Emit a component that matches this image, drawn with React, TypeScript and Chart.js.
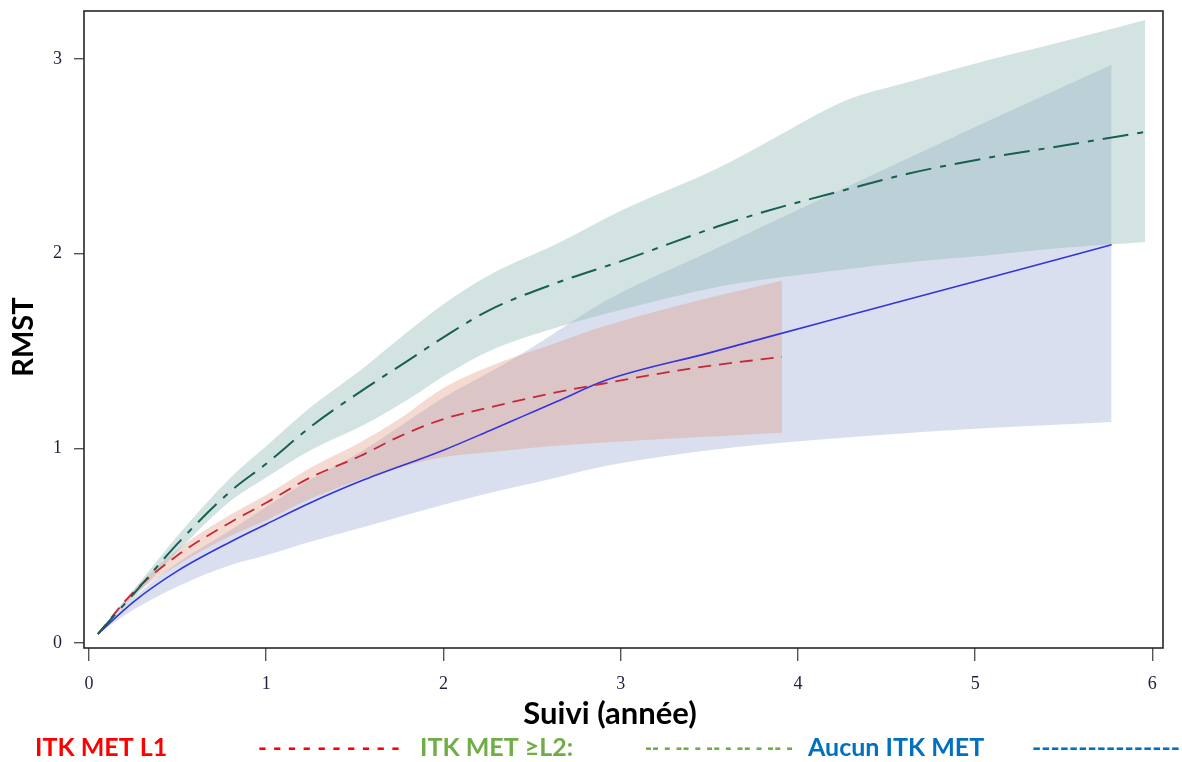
import React, { useEffect, useRef } from "react";
import { Chart, registerables } from "chart.js";

Chart.register(...registerables);

// Axis ticks and titles
const X_TICKS = [0, 1, 2, 3, 4, 5, 6];
const Y_TICKS = [0, 1, 2, 3];
const X_TITLE = "Suivi (année)";
const Y_TITLE = "RMST";

// ITK MET ≥L2 : RMST and confidence band
const L2_X = [0.05, 0.25, 0.5, 0.8, 1.0, 1.25, 1.53, 1.8, 2.0, 2.26, 2.64, 3.0, 3.55, 3.83, 4.28, 4.62, 5.06, 5.5, 5.96];
const L2_RMST = [0.046, 0.25, 0.51, 0.78, 0.92, 1.11, 1.29, 1.45, 1.57, 1.71, 1.85, 1.96, 2.14, 2.22, 2.33, 2.41, 2.49, 2.555, 2.625];
const L2_LOW = [0.046, 0.23, 0.47, 0.73, 0.85, 0.99, 1.11, 1.25, 1.37, 1.5, 1.62, 1.71, 1.83, 1.87, 1.92, 1.955, 1.99, 2.03, 2.06];
const L2_HIGH = [0.046, 0.27, 0.55, 0.85, 1.01, 1.21, 1.4, 1.6, 1.74, 1.89, 2.05, 2.22, 2.44, 2.575, 2.79, 2.88, 2.99, 3.09, 3.2];

// ITK MET L1
const L1_X = [0.05, 0.25, 0.5, 0.8, 1.0, 1.25, 1.53, 1.75, 2.0, 2.26, 2.6, 2.92, 3.4, 3.91];
const L1_RMST = [0.046, 0.26, 0.45, 0.62, 0.72, 0.85, 0.96, 1.06, 1.15, 1.21, 1.28, 1.335, 1.41, 1.47];
const L1_LOW = [0.046, 0.24, 0.4, 0.55, 0.63, 0.74, 0.84, 0.9, 0.955, 0.98, 1.01, 1.03, 1.055, 1.08];
const L1_HIGH = [0.046, 0.27, 0.48, 0.66, 0.76, 0.9, 1.03, 1.15, 1.31, 1.42, 1.53, 1.63, 1.75, 1.86];

// Aucun ITK MET
const AU_X = [0.05, 0.25, 0.5, 0.8, 1.0, 1.25, 1.53, 2.0, 2.26, 2.45, 2.64, 2.92, 3.5, 4.13, 5.0, 5.77];
const AU_RMST = [0.046, 0.21, 0.37, 0.52, 0.61, 0.72, 0.83, 0.99, 1.09, 1.165, 1.24, 1.35, 1.49, 1.645, 1.857, 2.045];
const AU_LOW = [0.046, 0.17, 0.29, 0.4, 0.45, 0.52, 0.59, 0.71, 0.77, 0.81, 0.85, 0.91, 0.99, 1.045, 1.1, 1.135];
const AU_HIGH = [0.046, 0.23, 0.41, 0.58, 0.7, 0.84, 0.98, 1.26, 1.39, 1.49, 1.6, 1.76, 2.01, 2.28, 2.65, 2.97];

// Legend row under the axis title
const LEGEND_LABELS = ["ITK MET L1", "ITK MET ≥L2:", "Aucun ITK MET"];
const LEGEND_DASHES = ["- - - - - - - - - -", "-- - -- - -- - -- - -- -", "----------------"];
const LEGEND_COLORS = ["#ff0000", "#70ad47", "#0070c0"];

const pts = (xs: number[], ys: number[]) => xs.map((x, i) => ({ x, y: ys[i] }));

const lineDs = (label: string, xs: number[], ys: number[], color: string, width: number, dash: number[]) => ({
  label,
  data: pts(xs, ys),
  borderColor: color,
  borderWidth: width,
  borderDash: dash,
  pointRadius: 0,
  fill: false,
  cubicInterpolationMode: "monotone" as const,
  order: 0,
});

const edgeDs = (label: string, xs: number[], ys: number[], fill: any, bg: string) => ({
  label,
  data: pts(xs, ys),
  borderColor: "rgba(0,0,0,0)",
  borderWidth: 0,
  pointRadius: 0,
  fill,
  backgroundColor: bg,
  cubicInterpolationMode: "monotone" as const,
  order: 1,
});

// Box around the plotting area
const framePlugin = {
  id: "plotFrame",
  afterDraw(chart: any) {
    const { ctx, chartArea } = chart;
    ctx.save();
    ctx.strokeStyle = "#262626";
    ctx.lineWidth = 1.6;
    ctx.strokeRect(chartArea.left, chartArea.top, chartArea.right - chartArea.left, chartArea.bottom - chartArea.top);
    ctx.restore();
  },
};

// Axis titles
const titlesPlugin = {
  id: "axisTitles",
  afterDraw(chart: any) {
    const ctx = chart.ctx as CanvasRenderingContext2D;
    ctx.save();
    ctx.fillStyle = "#000";
    ctx.textBaseline = "alphabetic";
    ctx.textAlign = "center";
    ctx.font = "bold 31px Lato";
    ctx.fillText(X_TITLE, 610, 724);
    ctx.font = "bold 29px Lato";
    ctx.translate(33, 337);
    ctx.rotate(-Math.PI / 2);
    ctx.fillText(Y_TITLE, 0, 0);
    ctx.restore();
  },
};

const LABEL_LEFT = [35, 420, 808];
const DASH_SPAN = [
  [258, 400],
  [645, 793],
  [1032, 1180],
];

const legendPlugin = {
  id: "bottomLegend",
  afterDraw(chart: any) {
    const ctx = chart.ctx as CanvasRenderingContext2D;
    ctx.save();
    ctx.font = "bold 25px Lato";
    ctx.textBaseline = "alphabetic";
    ctx.textAlign = "left";
    const base = 756;
    LEGEND_LABELS.forEach((label, i) => {
      ctx.fillStyle = LEGEND_COLORS[i];
      ctx.fillText(label, LABEL_LEFT[i], base);
      const dash = LEGEND_DASHES[i];
      const w = ctx.measureText(dash).width;
      const [a, b] = DASH_SPAN[i];
      ctx.save();
      ctx.translate(a, base);
      ctx.scale((b - a) / w, 1);
      ctx.fillText(dash, 0, 0);
      ctx.restore();
    });
    ctx.restore();
  },
};

export default function App() {
  const ref = useRef<HTMLCanvasElement | null>(null);

  useEffect(() => {
    document.body.style.margin = "0";
    const canvas = ref.current;
    if (!canvas) return;
    const tickColor = "#1e2040";
    const chart = new Chart(canvas, {
      type: "line",
      data: {
        datasets: [
          lineDs("ITK MET ≥L2", L2_X, L2_RMST, "#17604f", 2, [26, 9, 6, 9]),
          lineDs("ITK MET L1", L1_X, L1_RMST, "#c4283a", 1.8, [13, 8]),
          lineDs("Aucun ITK MET", AU_X, AU_RMST, "#3434dc", 1.6, []),
          edgeDs("ITK MET ≥L2 bas", L2_X, L2_LOW, false, "rgba(0,0,0,0)"),
          edgeDs("ITK MET ≥L2 haut", L2_X, L2_HIGH, "-1", "rgba(142,185,180,0.4)"),
          edgeDs("ITK MET L1 bas", L1_X, L1_LOW, false, "rgba(0,0,0,0)"),
          edgeDs("ITK MET L1 haut", L1_X, L1_HIGH, "-1", "rgba(226,149,126,0.35)"),
          edgeDs("Aucun ITK MET bas", AU_X, AU_LOW, false, "rgba(0,0,0,0)"),
          edgeDs("Aucun ITK MET haut", AU_X, AU_HIGH, "-1", "rgba(103,127,187,0.25)"),
        ] as any,
      },
      options: {
        responsive: false,
        animation: false,
        layout: { padding: { top: 11, right: 19, bottom: 28, left: 0 } },
        plugins: {
          legend: { display: false },
          tooltip: { enabled: false },
          filler: { drawTime: "beforeDatasetsDraw" },
        },
        scales: {
          x: {
            type: "linear",
            min: -0.028,
            max: 6.06,
            afterBuildTicks: (s: any) => {
              s.ticks = X_TICKS.map((v) => ({ value: v }));
            },
            afterFit: (s: any) => {
              s.height = 86;
              s.paddingLeft = 0;
              s.paddingRight = 0;
            },
            grid: { drawOnChartArea: false, drawTicks: true, tickLength: 13, color: "#555", lineWidth: 1.4 },
            border: { display: false },
            ticks: {
              color: tickColor,
              font: { family: "Liberation Serif", size: 18 },
              padding: 12,
              maxRotation: 0,
              callback: (v: any) => String(v),
            },
          },
          y: {
            type: "linear",
            min: -0.026,
            max: 3.246,
            afterBuildTicks: (s: any) => {
              s.ticks = Y_TICKS.map((v) => ({ value: v }));
            },
            afterFit: (s: any) => {
              s.width = 84;
              s.paddingTop = 0;
              s.paddingBottom = 0;
            },
            grid: { drawOnChartArea: false, drawTicks: true, tickLength: 10, color: "#555", lineWidth: 1.4 },
            border: { display: false },
            ticks: {
              color: tickColor,
              font: { family: "Liberation Serif", size: 18 },
              padding: 12,
              callback: (v: any) => String(v),
            },
          },
        },
      },
      plugins: [framePlugin, titlesPlugin, legendPlugin],
    });
    return () => chart.destroy();
  }, []);

  return (
    <div style={{ width: 1182, height: 762, background: "#fff" }}>
      <canvas ref={ref} width={1182} height={762} />
    </div>
  );
}
